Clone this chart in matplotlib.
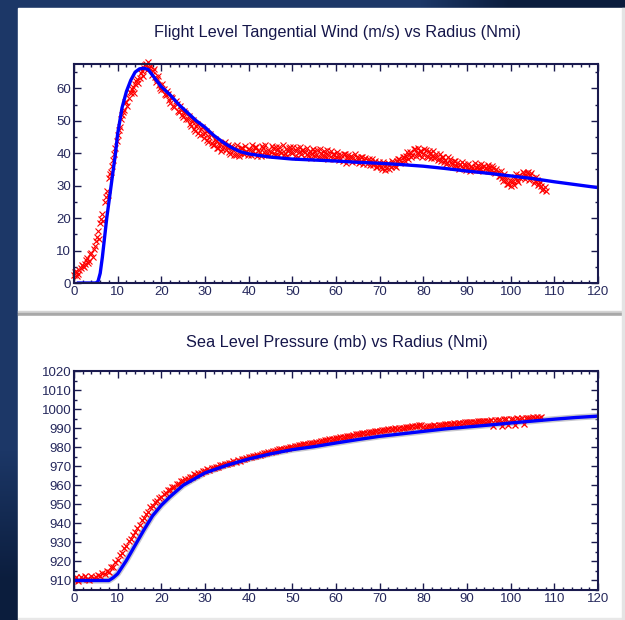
import numpy as np
import matplotlib.pyplot as plt
from matplotlib.patches import Rectangle
from matplotlib.ticker import MultipleLocator

plt.rcParams['font.family'] = ['Liberation Sans', 'DejaVu Sans']

# ---- flight level tangential wind (m/s) ----
# two interleaved passes of observations, every 0.5 nmi each
wind_obs_r = np.arange(0, 108.5, 0.5)
wind_obs = [
    2.5, 3.8, 2.9, 4.6, 5.2, 5.9, 7.6, 6.8, 9.4, 10.6,
    12.8, 15.9, 18.6, 21.2, 24.9, 28.3, 32.4, 34.1, 37.8, 41.5,
    45.6, 48.2, 51.9, 53.4, 55.8, 57.1, 58.6, 60.3, 61.2, 62.8,
    63.1, 65.4, 66.2, 67.5, 68.2, 66.9, 65.3, 63.4, 62.8, 61.1,
    59.6, 59.9, 57.8, 58.4, 55.6, 56.9, 54.2, 55.1, 52.6, 53.4,
    51.2, 52.3, 50.4, 49.1, 49.8, 47.6, 48.5, 46.3, 47.4, 45.8,
    46.1, 44.2, 45.0, 43.1, 42.6, 43.8, 41.7, 42.9, 41.2, 43.5,
    41.8, 40.3, 42.1, 40.9, 39.6, 41.4, 40.2, 41.7, 39.9, 40.8,
    41.2, 39.5, 40.6, 41.9, 39.2, 40.4, 42.1, 40.3, 39.4, 41.0,
    40.5, 41.6, 39.3, 40.9, 41.8, 40.2, 39.6, 41.3, 40.7, 42.0,
    40.1, 39.2, 41.5, 40.4, 39.8, 41.1, 40.3, 39.1, 40.8, 39.7,
    40.6, 39.3, 38.8, 40.2, 39.5, 38.7, 40.9, 39.4, 38.6, 39.8,
    38.9, 39.6, 38.2, 37.5, 39.9, 38.4, 37.9, 39.1, 38.6, 37.7,
    38.5, 37.4, 38.9, 37.8, 36.6, 38.1, 37.2, 36.4, 37.5, 35.9,
    36.3, 35.2, 36.8, 35.5, 36.9, 35.8, 37.2, 36.1, 37.6, 38.2,
    37.4, 38.8, 39.1, 38.3, 40.4, 39.6, 41.2, 40.1, 39.3, 40.6,
    39.8, 40.9, 38.9, 40.2, 39.1, 38.4, 39.7, 38.2, 37.6, 38.9,
    38.0, 37.1, 38.3, 36.8, 37.5, 36.2, 35.9, 36.8, 35.4, 36.3,
    35.8, 35.1, 36.2, 34.9, 35.6, 36.4, 35.2, 35.9, 36.1, 34.8,
    35.6, 34.9, 35.3, 33.8, 34.2, 33.1, 32.4, 33.5, 31.8, 30.6,
    29.8, 31.5, 32.7, 31.9, 33.4, 32.6, 33.8, 32.9, 34.1, 33.2,
    32.4, 31.3, 31.8, 30.6, 29.9, 29.1, 28.4,
]
wind_obs2_r = np.arange(0.25, 108, 0.5)
wind_obs2 = [
    3.4, 2.2, 4.1, 5.6, 4.8, 7.1, 6.2, 8.9, 8.1, 11.5,
    14.2, 13.6, 19.8, 19.1, 26.4, 27.1, 33.6, 36.2, 39.9, 43.8,
    47.1, 50.6, 52.8, 55.9, 54.6, 58.9, 59.8, 58.7, 62.4, 61.5,
    64.6, 63.9, 67.1, 65.8, 66.4, 64.2, 66.1, 61.9, 63.7, 60.2,
    61.4, 58.1, 59.2, 56.3, 57.4, 54.6, 56.0, 53.1, 54.7, 51.8,
    52.9, 50.6, 51.5, 48.4, 50.2, 46.9, 49.0, 45.6, 48.1, 44.7,
    47.0, 43.6, 45.9, 42.4, 44.3, 41.6, 43.0, 40.8, 42.4, 41.0,
    42.6, 39.8, 41.9, 39.4, 42.5, 39.1, 41.6, 40.0, 42.3, 39.3,
    40.9, 42.4, 39.8, 42.0, 40.6, 39.0, 41.5, 42.6, 40.1, 39.3,
    42.3, 40.0, 41.9, 39.4, 40.6, 42.5, 40.2, 39.0, 41.7, 40.4,
    41.8, 40.6, 38.9, 41.9, 40.9, 38.8, 41.6, 40.2, 38.6, 41.2,
    39.0, 40.9, 41.2, 38.4, 40.7, 39.9, 38.1, 40.6, 39.7, 38.2,
    40.3, 37.8, 39.4, 39.9, 37.1, 39.3, 38.8, 37.2, 39.7, 38.9,
    37.1, 38.9, 36.8, 38.6, 37.9, 36.4, 38.3, 37.0, 35.8, 37.4,
    35.6, 37.3, 34.9, 36.8, 35.2, 37.5, 36.4, 35.8, 38.1, 36.9,
    38.9, 37.6, 40.3, 39.5, 38.8, 41.3, 39.2, 41.6, 40.6, 38.8,
    41.4, 39.2, 40.7, 38.5, 40.6, 38.9, 37.9, 39.8, 38.7, 37.3,
    36.8, 38.7, 37.2, 35.9, 37.6, 36.9, 35.1, 37.2, 36.6, 34.9,
    36.6, 34.6, 35.4, 36.9, 34.7, 35.1, 36.8, 34.6, 35.3, 36.5,
    34.4, 36.2, 34.1, 35.0, 32.9, 34.6, 31.5, 32.8, 30.4, 31.9,
    31.2, 30.1, 33.6, 31.0, 32.4, 34.3, 32.1, 34.0, 31.7, 33.9,
    30.8, 32.6, 30.1, 31.0, 28.6, 29.7,
]
wind_model_r = [1, 5, 5.5, 6, 6.5, 7, 7.5, 8, 8.5, 9, 9.5, 10, 10.5, 11, 12, 13,
                14, 15, 16, 17, 18, 20, 22, 24, 26, 28, 30, 32, 34, 36, 38, 40,
                45, 50, 55, 60, 65, 70, 75, 80, 85, 90, 95, 100, 105, 110, 115, 120]
wind_model = [0, 0, 0.5, 3, 8, 14, 20, 25, 30, 35, 40, 46, 50, 54, 59, 62.5,
              65, 66, 66.2, 65.8, 64, 60.5, 58, 55, 52.5, 50, 48, 45.5, 43.5, 41.8, 40.5, 39.8,
              38.8, 38.2, 37.9, 37.6, 37.2, 36.9, 36.5, 36, 35.3, 34.5, 33.8, 33, 32.2, 31.2, 30.3, 29.4]

# ---- sea level pressure (mb) ----
slp_obs_r = np.arange(0, 107.5, 0.5)
slp_obs = [
    910.2, 911.6, 909.8, 911.9, 910.6, 912.1, 911.0, 910.3, 912.3, 911.4,
    912.0, 913.1, 912.6, 914.0, 913.3, 915.2, 914.6, 916.9, 917.2, 919.6,
    920.9, 923.4, 924.6, 926.8, 928.1, 930.5, 931.6, 934.0, 935.2, 937.6,
    939.1, 941.5, 942.8, 945.0, 946.2, 948.4, 949.3, 951.2, 951.9, 953.5,
    953.8, 955.4, 955.9, 957.3, 957.6, 959.2, 959.0, 960.8, 960.6, 962.0,
    962.1, 963.3, 963.4, 964.6, 964.5, 965.7, 965.6, 966.6, 966.5, 967.5,
    967.4, 968.3, 968.1, 968.9, 969.0, 969.7, 969.6, 970.5, 970.4, 971.2,
    971.0, 971.9, 971.7, 972.5, 972.4, 973.2, 973.0, 973.8, 973.7, 974.4,
    974.6, 974.9, 975.3, 975.5, 975.9, 976.1, 976.4, 976.8, 976.9, 977.4,
    977.5, 977.9, 978.2, 978.3, 978.8, 978.9, 979.3, 979.5, 979.7, 980.1,
    980.2, 980.4, 980.8, 980.9, 981.1, 981.5, 981.6, 981.8, 982.2, 982.3,
    982.4, 982.8, 982.9, 983.1, 983.5, 983.6, 983.8, 984.2, 984.2, 984.5,
    984.8, 984.9, 985.1, 985.5, 985.5, 985.7, 986.1, 986.1, 986.4, 986.7,
    986.7, 987.0, 987.3, 987.3, 987.6, 987.9, 987.9, 988.1, 988.5, 988.4,
    988.6, 988.9, 988.9, 989.1, 989.4, 989.4, 989.6, 989.9, 989.8, 990.1,
    990.3, 990.2, 990.5, 990.8, 990.7, 991.0, 991.2, 991.1, 991.4, 991.6,
    990.5, 990.8, 991.0, 990.9, 991.2, 991.4, 991.3, 991.6, 991.8, 991.7,
    992.0, 992.1, 992.0, 992.3, 992.5, 992.4, 992.6, 992.8, 992.7, 993.0,
    993.1, 993.0, 993.3, 993.4, 993.3, 993.6, 993.7, 993.6, 993.9, 994.0,
    993.9, 994.2, 991.0, 994.3, 994.5, 994.4, 991.3, 994.7, 994.6, 991.6,
    994.9, 994.8, 991.9, 995.1, 995.0, 995.3, 992.2, 995.2, 995.5, 995.4,
    995.6, 995.5, 995.8, 995.4, 995.9,
]
slp_model_r = [0, 8, 9, 10, 12, 14, 16, 18, 20, 22, 25, 30, 35, 40, 45, 50, 55,
               60, 65, 70, 75, 80, 85, 90, 95, 100, 105, 110, 115, 120]
slp_model = [910, 910, 911.5, 913.5, 920.5, 928.5, 936.5, 944, 949.5, 954, 960,
             966.5, 970.5, 973.8, 976.5, 978.7, 980.3, 982.2, 984, 985.7, 987,
             988.3, 989.6, 990.6, 991.6, 992.7, 993.7, 994.7, 995.6, 996.3]

W, H = 625, 620
NAVY = '#1a1a4e'
TXT = '#25285c'

fig = plt.figure(figsize=(W / 100, H / 100), dpi=100)

# dark blue backdrop with the two white panels
bg = fig.add_axes([0, 0, 1, 1], zorder=-10)
yy, xx = np.mgrid[0:H, 0:W]
t = np.maximum(np.clip((yy - 450) / 130, 0, 1), np.clip((xx - 420) / 90, 0, 1))
c0 = np.array([0x1c, 0x37, 0x67]) / 255
c1 = np.array([0x0b, 0x1d, 0x3d]) / 255
grad = c0 * (1 - t[..., None]) + c1 * t[..., None]
bg.imshow(grad, extent=[0, W, H, 0], aspect='auto')
bg.add_patch(Rectangle((18, 8), W - 18, 304, color='white'))
bg.add_patch(Rectangle((18, 311), W - 18, 5, color='#d4d4d4'))
bg.add_patch(Rectangle((18, 313), W - 18, 2, color='#a8a8a8'))
bg.add_patch(Rectangle((18, 316), W - 18, 302, color='white'))
bg.add_patch(Rectangle((18, 618), W - 18, 2, color='#e8e8e8'))
bg.add_patch(Rectangle((622, 8), 3, 612, color='#e4e4e4'))
bg.set_xlim(0, W)
bg.set_ylim(H, 0)
bg.axis('off')


def style(ax):
    for s in ax.spines.values():
        s.set_color(NAVY)
        s.set_linewidth(1.5)
    ax.xaxis.set_major_locator(MultipleLocator(10))
    ax.xaxis.set_minor_locator(MultipleLocator(2))
    ax.yaxis.set_minor_locator(MultipleLocator(5))
    ax.tick_params(which='both', direction='in', top=True, right=True,
                   color=NAVY, width=1, labelsize=9.5, labelcolor=TXT, pad=2)
    ax.tick_params(which='major', length=5)
    ax.tick_params(which='minor', length=2.5)
    ax.set_xlim(0, 120)


ax1 = fig.add_axes([74 / W, 1 - 283 / H, 524 / W, 219 / H])
for r, v in [(wind_obs_r, wind_obs), (wind_obs2_r, wind_obs2)]:
    ax1.plot(r, v, 'x', color='#ff0000', ms=4.5, mew=0.8, clip_on=False)
ax1.plot(wind_model_r, wind_model, color='#0000ff', lw=2.4)
ax1.set_ylim(0, 67.5)
ax1.yaxis.set_major_locator(MultipleLocator(10))
style(ax1)
fig.text(337 / W, 1 - 33 / H, 'Flight Level Tangential Wind (m/s) vs Radius (Nmi)',
         ha='center', va='center', fontsize=11.7, color='#15164a')

ax2 = fig.add_axes([74 / W, 1 - 590 / H, 524 / W, 219 / H])
ax2.plot(slp_model_r, slp_model, color='#c8c8ce', lw=4.5, solid_capstyle='butt')
ax2.plot(slp_obs_r, slp_obs, 'x', color='#ff0000', ms=5, mew=0.9)
ax2.plot(slp_model_r, slp_model, color='#0000ff', lw=2.4)
ax2.set_ylim(905, 1020)
ax2.set_yticks(np.arange(910, 1021, 10))
style(ax2)
fig.text(337 / W, 1 - 343 / H, 'Sea Level Pressure (mb) vs Radius (Nmi)',
         ha='center', va='center', fontsize=11.7, color='#15164a')

fig.savefig('out.png', dpi=100)
